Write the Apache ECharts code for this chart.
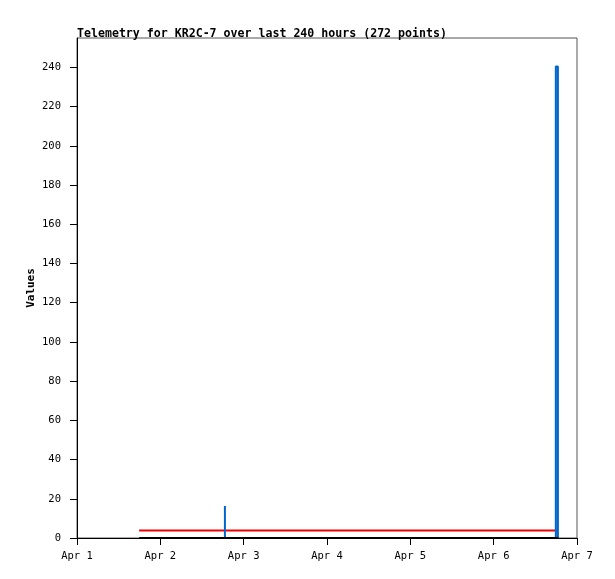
<!DOCTYPE html>
<html><head><meta charset="utf-8">
<script src="https://cdn.jsdelivr.net/npm/echarts@6/dist/echarts.min.js"></script>
<style>html,body{margin:0;padding:0;background:#fff}#c{width:615px;height:579px}</style>
</head><body><div id="c"></div>
<script>
// x values are hours since Apr 1 00:00
const xTickLabels = ['Apr 1','Apr 2','Apr 3','Apr 4','Apr 5','Apr 6','Apr 7'];
const blackHours = [17.9, 138.6];
const blackValues = [0, 0];
const redHours = [17.9, 138.1];
const redValues = [3.8, 3.8];
const blueHours = [42.6, 42.6, 42.6, 137.9, 137.9, 138.5, 138.5];
const blueValues = [0, 16.3, 0, 0, 240.5, 240.5, 0];

const zip = (a, b) => a.map((v, i) => [v, b[i]]);
const font = 'DejaVu Sans Mono';
const chart = echarts.init(document.getElementById('c'));
chart.setOption({
  animation: false,
  title: { text: 'Telemetry for KR2C-7 over last 240 hours (272 points)', left: 72, top: 23,
    textStyle: { fontFamily: font, fontSize: 11.6, fontWeight: 'bold', color: '#000' } },
  grid: { left: 77, right: 38, top: 38, bottom: 41, show: true, borderColor: '#555', borderWidth: 1 },
  xAxis: { type: 'value', min: 0, max: 144, interval: 24,
    axisLine: { lineStyle: { color: '#000', width: 1 } },
    axisTick: { length: 7, lineStyle: { color: '#000' } },
    splitLine: { show: false },
    axisLabel: { color: '#000', fontFamily: font, fontSize: 10.5, margin: 13,
      formatter: v => xTickLabels[Math.round(v / 24)] } },
  yAxis: { type: 'value', min: 0, max: 255, interval: 20,
    name: 'Values', nameLocation: 'middle', nameGap: 40, nameMoveOverlap: false,
    nameTextStyle: { fontFamily: font, fontSize: 11, fontWeight: 'bold', color: '#000' },
    axisLine: { show: true, lineStyle: { color: '#000', width: 1 } },
    axisTick: { show: true, length: 7, lineStyle: { color: '#000' } },
    splitLine: { show: false },
    axisLabel: { color: '#000', fontFamily: font, fontSize: 10.5, margin: 16,
      showMaxLabel: false } },
  series: [
    { type: 'line', data: zip(redHours, redValues), symbol: 'none', lineStyle: { color: '#ee0000', width: 2 }, z: 2 },
    { type: 'line', data: zip(blueHours, blueValues), symbol: 'none', lineStyle: { color: '#0066cc', width: 2 }, z: 3 },
    { type: 'line', data: zip(blackHours, blackValues), symbol: 'none', lineStyle: { color: '#000', width: 2 }, z: 4 }
  ]
});
</script></body></html>
